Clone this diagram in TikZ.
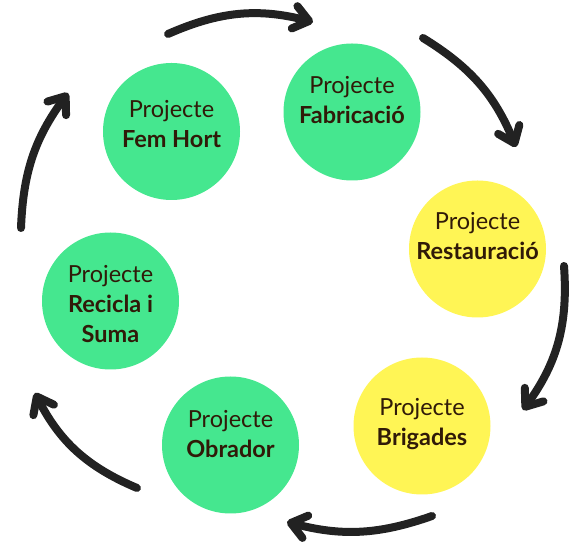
\documentclass[tikz,border=0pt]{standalone}
\usepackage{fontspec}
\setmainfont{Lato}
\usetikzlibrary{
  arrows.meta
}
\definecolor{hortgreen}{RGB}{69,231,143}
\definecolor{restyellow}{RGB}{255,245,85}
\definecolor{inkbrown}{RGB}{48,26,8}
\definecolor{penblack}{RGB}{34,34,34}
\tikzset{
  project/.style={
    circle,
    minimum size=137pt,
    inner sep=0pt
  },
  green project/.style={project, fill=hortgreen},
  yellow project/.style={project, fill=restyellow},
  project text/.style={
    text=inkbrown,
    align=center,
    font=\fontsize{23.5}{30}\selectfont
  },
  cycle arrow/.style={
    line width=8pt,
    penblack,
    line cap=round,
    -{Straight Barb[length=15pt, width=23pt, round]}
  }
}

\begin{document}
\begin{tikzpicture}[x=1pt, y=1pt]
\useasboundingbox (0,0) rectangle (573,543);
% project circles
\node[green project] (hort) at (171.5,411.5) {};
\node[green project] (fabr) at (352,431) {};
\node[yellow project] (rest) at (477.5,294) {};
\node[yellow project] (brig) at (422,117) {};
\node[green project] (obra) at (230.5,98) {};
\node[green project] (reci) at (110.5,242) {};
\node[project text] (hort-text) at ([yshift=7.5pt]hort.center) {Projecte\\\textbf{Fem Hort}};
\node[project text] (fabr-text) at ([yshift=12pt]fabr.center) {Projecte\\\textbf{Fabricació}};
\node[project text] (rest-text) at ([yshift=13pt]rest.center) {Projecte\\\textbf{Restauració}};
\node[project text] (brig-text) at ([yshift=2pt]brig.center) {Projecte\\\textbf{Brigades}};
\node[project text] (obra-text) at ([yshift=11pt]obra.center) {Projecte\\\textbf{Obrador}};
\node[project text] (reci-text) at ([yshift=-3pt]reci.center) {Projecte\\\textbf{Recicla i}\\\textbf{Suma}};
% arrow ends
\coordinate (a1s) at (168,509);
\coordinate (a1e) at (313,521);
\coordinate (a2s) at (423,505);
\coordinate (a2e) at (516,396);
\coordinate (a3s) at (564,277);
\coordinate (a3e) at (523,133);
\coordinate (a4s) at (432,27);
\coordinate (a4e) at (287,21);
\coordinate (a5s) at (137,55);
\coordinate (a5e) at (35,150);
\coordinate (a6s) at (21,315);
\coordinate (a6e) at (68,450);
\draw[cycle arrow] (a1s) to[bend left=19] (a1e);
\draw[cycle arrow] (a2s) to[bend left=18] (a2e);
\draw[cycle arrow] (a3s) to[bend left=20] (a3e);
\draw[cycle arrow] (a4s) to[bend left=17] (a4e);
\draw[cycle arrow] (a5s) to[bend left=20] (a5e);
\draw[cycle arrow] (a6s) to[bend left=17] (a6e);
\end{tikzpicture}
\end{document}
